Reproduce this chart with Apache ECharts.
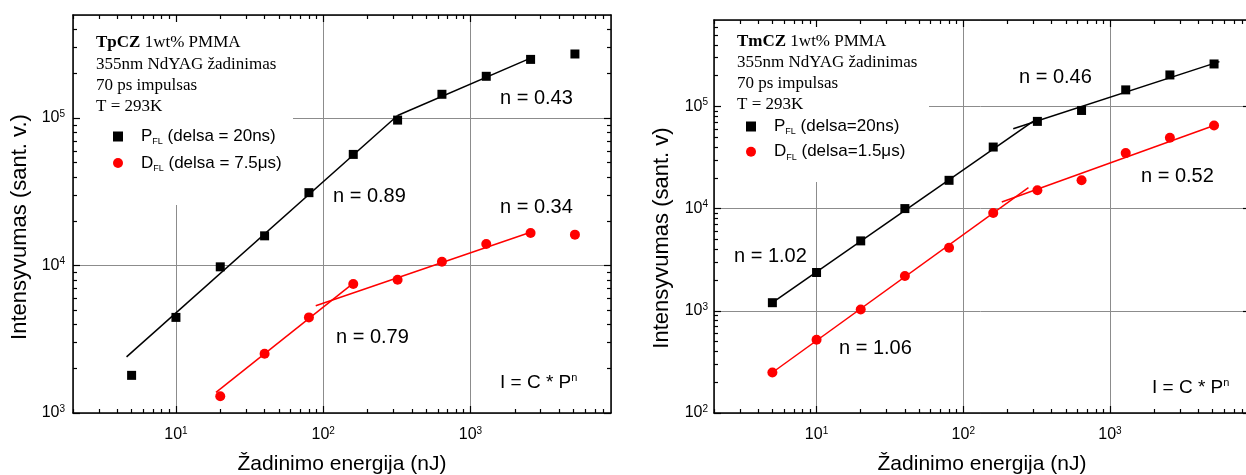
<!DOCTYPE html>
<html><head><meta charset="utf-8">
<script src="https://cdn.jsdelivr.net/npm/echarts@6/dist/echarts.min.js"></script>
<style>html,body{margin:0;padding:0;background:#fff}#c{width:1246px;height:475px}</style>
</head><body><div id="c"></div>
<script>
// ---------- data ----------
const energyP = [5, 10, 20, 40, 80, 160, 320, 640, 1280, 2560, 5120];
const tpczEnergyD = [20, 40, 80, 160, 320, 640, 1280, 2560, 5120];
const tpczP = [1800, 4450, 9800, 15900, 31200, 56700, 96900, 145000, 192000, 250000, 272000];
const tpczD = [1300, 2520, 4450, 7500, 8020, 10600, 14000, 16600, 16200];
const tpczPFit1 = [[4.62, 2400], [320, 104000]];
const tpczPFit2 = [[320, 104000], [2560, 255000]];
const tpczDFit1 = [[18.7, 1380], [155, 7400]];
const tpczDFit2 = [[89, 5330], [2560, 16800]];

const tmczEnergyD = [5, 10, 20, 40, 80, 160, 320, 640, 1280, 2560, 5120];
const tmczP = [1200, 2370, 4830, 10000, 18900, 40000, 71300, 91200, 145000, 203000, 260000];
const tmczD = [249, 520, 1030, 2190, 4140, 9060, 15100, 18900, 34900, 49300, 65000];
const tmczPFit1 = [[5, 1200], [299, 71300]];
const tmczPFit2 = [[219, 60400], [5570, 274000]];
const tmczDFit1 = [[5, 249], [278, 16000]];
const tmczDFit2 = [[183, 11600], [5120, 65000]];

const xMajorTicks = [10, 100, 1000];
const xMinorTicks = [2, 3, 4, 5, 6, 7, 8, 9, 20, 30, 40, 50, 60, 70, 80, 90, 200, 300, 400, 500, 600, 700, 800, 900, 2000, 3000, 4000, 5000, 6000, 7000, 8000];
const yMajorTicksTp = [1000, 10000, 100000];
const yMinorTicksTp = [2000, 3000, 4000, 5000, 6000, 7000, 8000, 9000, 20000, 30000, 40000, 50000, 60000, 70000, 80000, 90000, 200000, 300000, 400000];
const yMajorTicksTm = [100, 1000, 10000, 100000];
const yMinorTicksTm = [200, 300, 400, 500, 600, 700, 800, 900, 2000, 3000, 4000, 5000, 6000, 7000, 8000, 9000, 20000, 30000, 40000, 50000, 60000, 70000, 80000, 90000, 200000, 300000, 400000, 500000, 600000];

const nameP_Tp = 'P_FL (delsa = 20ns)';
const nameD_Tp = 'D_FL (delsa = 7.5μs)';
const nameP_Tm = 'P_FL (delsa=20ns)';
const nameD_Tm = 'D_FL (delsa=1.5μs)';

// ---------- helpers ----------
const SANS = 'Liberation Sans';
const SERIF = 'Liberation Serif';
function zip(xs, ys) { return xs.map((x, i) => [x, ys[i]]); }
function powLabel(v) {
  const e = Math.round(Math.log10(v));
  if (Math.abs(v / Math.pow(10, e) - 1) > 1e-6) return '';
  return '{b|10}{s|' + e + '}';
}
const RICH = {
  b: { fontSize: 16, fontFamily: SANS, color: '#000', lineHeight: 18 },
  s: { fontSize: 10, fontFamily: SANS, color: '#000', lineHeight: 10, verticalAlign: 'top' }
};
const LINE = { show: true, lineStyle: { color: '#000', width: 1.5 } };
const TICKSTYLE = { color: '#000', width: 1.2 };

function axisSet(gi, sides, min, max, majors, minors, labelMargin, extra) {
  const base = { type: 'log', logBase: 10, gridIndex: gi, min: min, max: max, z: 3 };
  const off = { axisLine: { show: false }, axisLabel: { show: false }, splitLine: { show: false } };
  const list = [];
  list.push(Object.assign({}, base, {
    position: sides[0], axisLine: LINE,
    axisTick: { show: true, inside: true, length: 7, customValues: majors, lineStyle: TICKSTYLE },
    axisLabel: { show: true, customValues: majors, margin: labelMargin, formatter: powLabel, rich: RICH },
    splitLine: { show: false }
  }, extra || {}));
  list.push(Object.assign({}, base, off, {
    position: sides[0],
    axisTick: { show: true, inside: true, length: 4, customValues: minors, lineStyle: TICKSTYLE }
  }));
  list.push(Object.assign({}, base, off, {
    position: sides[1], axisLine: LINE,
    axisTick: { show: true, inside: true, length: 7, customValues: majors, lineStyle: TICKSTYLE }
  }));
  list.push(Object.assign({}, base, off, {
    position: sides[1],
    axisTick: { show: true, inside: true, length: 4, customValues: minors, lineStyle: TICKSTYLE }
  }));
  list.push(Object.assign({}, base, {
    z: 0, position: sides[0], axisLine: { show: false }, axisTick: { show: false }, axisLabel: { show: false },
    splitLine: { show: true, lineStyle: { color: '#8c8c8c', width: 1 } }
  }));
  return list;
}

const xName = {
  nameLocation: 'middle', nameGap: 41,
  nameTextStyle: { fontSize: 21, fontFamily: SANS, color: '#000' }
};

const xAxes = [].concat(
  axisSet(0, ['bottom', 'top'], 2, 9000, xMajorTicks, xMinorTicks, 13, Object.assign({ name: 'Žadinimo energija (nJ)' }, xName)),
  axisSet(1, ['bottom', 'top'], 2, 9000, xMajorTicks, xMinorTicks, 13, Object.assign({ name: 'Žadinimo energija (nJ)' }, xName))
);
const yAxes = [].concat(
  axisSet(0, ['left', 'right'], 1000, 500000, yMajorTicksTp, yMinorTicksTp, 8),
  axisSet(1, ['left', 'right'], 100, 700000, yMajorTicksTm, yMinorTicksTm, 6)
);

function pts(name, xi, data, symbol, size, color) {
  return { type: 'scatter', name: name, xAxisIndex: xi, yAxisIndex: xi, data: data, symbol: symbol,
    symbolSize: size, itemStyle: { color: color, opacity: 1 }, z: 5, silent: true };
}
function fit(xi, data, color) {
  return { type: 'line', xAxisIndex: xi, yAxisIndex: xi, data: data, symbol: 'none', showSymbol: false,
    lineStyle: { color: color, width: 1.5 }, z: 4, silent: true };
}

function legendFmt(name) {
  const m = name.match(/^(\w)_FL (.*)$/);
  return '{f|' + m[1] + '}{s|FL}{n| ' + m[2] + '}';
}
const LEGRICH = {
  f: { fontSize: 17, fontFamily: SANS, color: '#000', lineHeight: 20, padding: [0, 0, 0, 13] },
  n: { fontSize: 17, fontFamily: SANS, color: '#000', lineHeight: 20 },
  s: { fontSize: 9, fontFamily: SANS, color: '#000', lineHeight: 9, verticalAlign: 'bottom' }
};

function txt(x, y, text, size) {
  return { type: 'text', x: x, y: y, z: 10, silent: true,
    style: { text: text, fontSize: size || 20, fontFamily: SANS, fill: '#000', align: 'left', verticalAlign: 'middle' } };
}
function formula(x, y) {
  return { type: 'text', x: x, y: y, z: 10, silent: true,
    style: { text: '{m|I = C * P}{s|n}', align: 'left', verticalAlign: 'middle',
      rich: { m: { fontSize: 19, fontFamily: SANS, fill: '#000', lineHeight: 22 },
              s: { fontSize: 11, fontFamily: SANS, fill: '#000', lineHeight: 11, verticalAlign: 'top' } } } };
}
function note(x, y, bold, rest, lines) {
  return { type: 'text', x: x, y: y, z: 10, silent: true,
    style: { text: '{b|' + bold + '}{r|' + rest + '}\n' + lines.map(l => '{r|' + l + '}').join('\n'),
      align: 'left', verticalAlign: 'top',
      rich: { b: { fontSize: 17, fontFamily: SERIF, fontWeight: 'bold', fill: '#000', lineHeight: 21.2 },
              r: { fontSize: 17, fontFamily: SERIF, fill: '#000', lineHeight: 21.2 } } } };
}
function ytitle(x, y, text) {
  return { type: 'text', x: x, y: y, rotation: Math.PI / 2, z: 10, silent: true,
    style: { text: text, fontSize: 22, fontFamily: SANS, fill: '#000', align: 'center', verticalAlign: 'middle' } };
}

const option = {
  animation: false,
  backgroundColor: '#fff',
  grid: [
    { left: 73, top: 15, width: 538, height: 398, outerBoundsMode: 'none', containLabel: false },
    { left: 714, top: 20, width: 536, height: 393, outerBoundsMode: 'none', containLabel: false }
  ],
  xAxis: xAxes,
  yAxis: yAxes,
  legend: [
    { left: 113, top: 128, orient: 'vertical', padding: 0, itemWidth: 10, itemHeight: 10, itemGap: 8,
      selectedMode: false, data: [{ name: nameP_Tp, icon: 'rect' }, { name: nameD_Tp, icon: 'circle' }],
      formatter: legendFmt, textStyle: { rich: LEGRICH } },
    { left: 746, top: 118, orient: 'vertical', padding: 0, itemWidth: 10, itemHeight: 10, itemGap: 6.7,
      selectedMode: false, data: [{ name: nameP_Tm, icon: 'rect' }, { name: nameD_Tm, icon: 'circle' }],
      formatter: legendFmt, textStyle: { rich: LEGRICH } }
  ],
  graphic: [
    { type: 'rect', shape: { x: 74, y: 16, width: 219, height: 189 }, style: { fill: '#fff' }, z: 1, silent: true },
    { type: 'rect', shape: { x: 715, y: 21, width: 214, height: 161 }, style: { fill: '#fff' }, z: 1, silent: true },
    note(96, 32.4, 'TpCZ', ' 1wt% PMMA', ['355nm NdYAG žadinimas', '70 ps impulsas', 'T = 293K']),
    note(737, 30.6, 'TmCZ', ' 1wt% PMMA', ['355nm NdYAG žadinimas', '70 ps impulsas', 'T = 293K']),
    txt(500, 98, 'n = 0.43'),
    txt(333, 196, 'n = 0.89'),
    txt(500, 207, 'n = 0.34'),
    txt(336, 337, 'n = 0.79'),
    formula(500, 383),
    txt(1019, 77, 'n = 0.46'),
    txt(1141, 176, 'n = 0.52'),
    txt(734, 256, 'n = 1.02'),
    txt(839, 348, 'n = 1.06'),
    formula(1152, 388),
    ytitle(20, 227, 'Intensyvumas (sant. v.)'),
    ytitle(662, 238, 'Intensyvumas (sant. v)')
  ],
  series: [
    fit(0, tpczPFit1, '#000'), fit(0, tpczPFit2, '#000'),
    fit(0, tpczDFit1, '#ff0000'), fit(0, tpczDFit2, '#ff0000'),
    pts(nameP_Tp, 0, zip(energyP, tpczP), 'rect', 9, '#000'),
    pts(nameD_Tp, 0, zip(tpczEnergyD, tpczD), 'circle', 10, '#ff0000'),
    fit(5, tmczPFit1, '#000'), fit(5, tmczPFit2, '#000'),
    fit(5, tmczDFit1, '#ff0000'), fit(5, tmczDFit2, '#ff0000'),
    pts(nameP_Tm, 5, zip(energyP, tmczP), 'rect', 9, '#000'),
    pts(nameD_Tm, 5, zip(tmczEnergyD, tmczD), 'circle', 10, '#ff0000')
  ]
};
const chart = echarts.init(document.getElementById('c'), null, { renderer: 'canvas' });
chart.setOption(option);
</script>
</body></html>
